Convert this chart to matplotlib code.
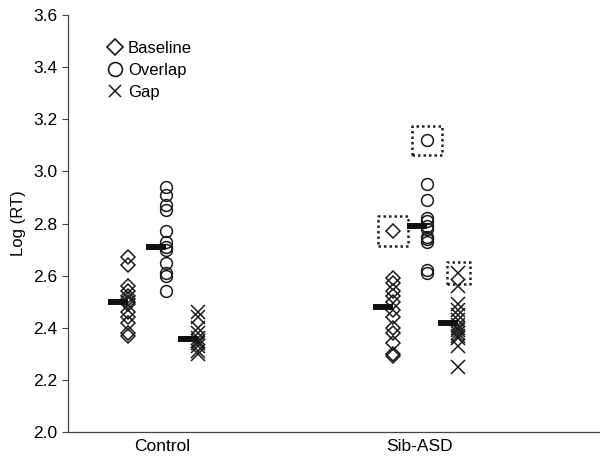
import matplotlib.pyplot as plt

plt.rcParams['font.family'] = ['Liberation Sans', 'DejaVu Sans']

groups = ['Control', 'Sib-ASD']
conditions = ['Baseline', 'Overlap', 'Gap']

# Log(RT) values
control_baseline = [2.67, 2.64, 2.56, 2.54, 2.52, 2.51, 2.50, 2.49, 2.46, 2.44, 2.42, 2.38, 2.37]
control_overlap = [2.94, 2.91, 2.87, 2.85, 2.77, 2.73, 2.71, 2.70, 2.65, 2.61, 2.60, 2.54]
control_gap = [2.46, 2.44, 2.40, 2.38, 2.36, 2.35, 2.34, 2.33, 2.31, 2.30]
sib_baseline = [2.77, 2.59, 2.57, 2.54, 2.52, 2.50, 2.47, 2.44, 2.40, 2.38, 2.34, 2.30, 2.29]
sib_overlap = [3.12, 2.95, 2.89, 2.82, 2.81, 2.79, 2.78, 2.75, 2.74, 2.73, 2.62, 2.61]
sib_gap = [2.61, 2.56, 2.49, 2.47, 2.45, 2.43, 2.41, 2.40, 2.39, 2.38, 2.37, 2.36, 2.33, 2.25]

# group means (black bars)
control_means = [2.50, 2.71, 2.355]
sib_means = [2.48, 2.79, 2.42]

# boxed outliers in Sib-ASD: (condition index, value)
sib_outliers = [(0, 2.77), (1, 3.12), (2, 2.61)]

group_x = [1, 2]
column_x = [[0.866, 1.014, 1.138], [1.895, 2.027, 2.148]]
markers = ['D', 'o', 'x']
msizes = [7.5, 8.5, 9.5]
box_sizes = [21.6, 21, 16.5]

fig = plt.figure(figsize=(6, 4.65), dpi=100)
ax = fig.add_axes([0.1133, 0.071, 0.8867, 0.8967])

data = [[control_baseline, control_overlap, control_gap],
        [sib_baseline, sib_overlap, sib_gap]]
means = [control_means, sib_means]

for g in range(2):
    for c in range(3):
        vals = data[g][c]
        xs = [column_x[g][c]] * len(vals)
        if markers[c] == 'x':
            ax.plot(xs, vals, linestyle='none', marker='x', ms=msizes[c],
                    mew=1.1, color='#1a1a1a')
        else:
            ax.plot(xs, vals, linestyle='none', marker=markers[c], ms=msizes[c],
                    mew=1.1, mfc='none', mec='#1a1a1a')
        ax.hlines(means[g][c], column_x[g][c] - 0.078, column_x[g][c],
                  color='#111111', linewidth=4.3)

# dotted boxes around outliers
for c, v in sib_outliers:
    ax.scatter([column_x[1][c]], [v], marker='s', s=box_sizes[c] ** 2,
               facecolors='none', edgecolors='#222222', linewidths=1.8,
               linestyles=(0, (1, 1.2)))

ax.set_ylim(2.0, 3.6)
ax.set_yticks([2.0, 2.2, 2.4, 2.6, 2.8, 3.0, 3.2, 3.4, 3.6])
ax.set_yticklabels(['2.0', '2.2', '2.4', '2.6', '2.8', '3.0', '3.2', '3.4', '3.6'])
ax.set_xlim(0.633, 2.699)
ax.set_xticks(group_x)
ax.set_xticklabels(groups)
ax.tick_params(axis='x', length=0, labelsize=12.5, pad=5)
ax.tick_params(axis='y', length=4.5, width=0.8, labelsize=12.5, color='#444444', pad=3)
ax.set_ylabel('Log (RT)', fontsize=12, labelpad=5)

for s in ['top', 'right']:
    ax.spines[s].set_visible(False)
for s in ['left', 'bottom']:
    ax.spines[s].set_color('#444444')
    ax.spines[s].set_linewidth(0.9)

handles = []
for c in range(3):
    if markers[c] == 'x':
        h, = ax.plot([], [], linestyle='none', marker='x', ms=8, mew=1.1, color='#1a1a1a')
    else:
        h, = ax.plot([], [], linestyle='none', marker=markers[c], ms=[8.5, 10][c],
                     mew=1.2, mfc='none', mec='#1a1a1a')
    handles.append(h)
ax.legend(handles, conditions, loc='upper left', bbox_to_anchor=(0.075, 0.938),
          frameon=False, fontsize=12, handlelength=0.8, handletextpad=0.4,
          labelspacing=0.42, borderaxespad=0, borderpad=0)

fig.savefig('out.png', dpi=100)
